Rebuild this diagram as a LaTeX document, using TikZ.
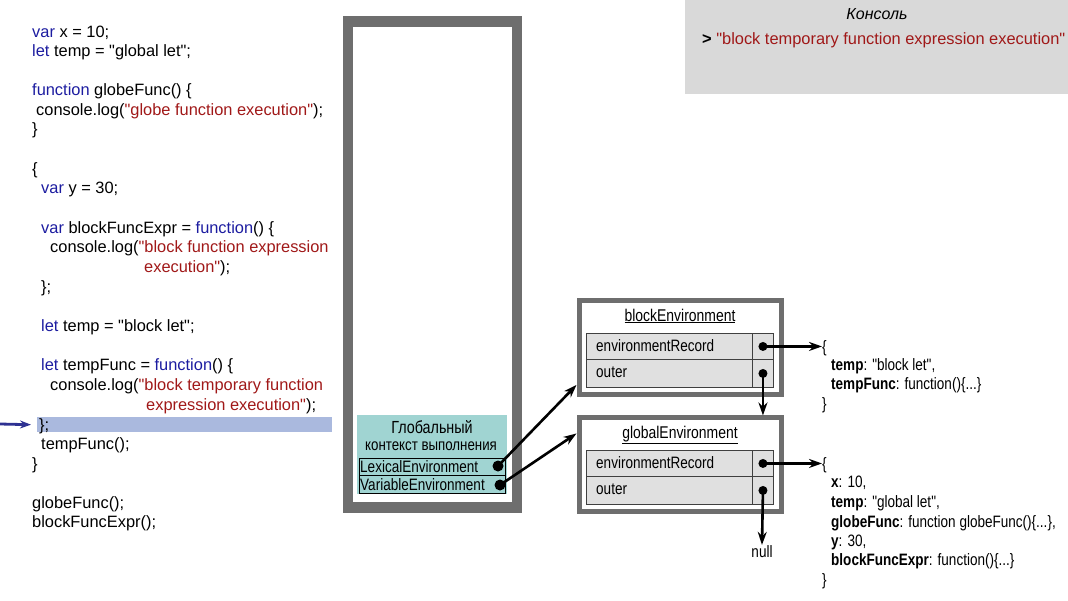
\documentclass[tikz,border=0pt]{standalone}
\usepackage{fontspec}
\setmainfont{Liberation Sans}
\newfontfamily\arial{Liberation Sans}
\newfontfamily\nar{Liberation Sans}[FakeStretch=0.82]
\usetikzlibrary{arrows.meta}
\definecolor{kwc}{RGB}{28,28,160}
\definecolor{strc}{RGB}{160,24,24}
\definecolor{framegray}{RGB}{110,110,110}
\definecolor{cellgray}{RGB}{224,224,224}
\definecolor{consgray}{RGB}{217,217,217}
\definecolor{tealc}{RGB}{160,212,210}
\definecolor{hlc}{RGB}{170,185,222}
\definecolor{arrblue}{RGB}{46,49,146}
\newcommand{\cKw}[1]{\textcolor{kwc}{#1}}
\newcommand{\cStr}[1]{\textcolor{strc}{#1}}
\begin{document}
\begin{tikzpicture}[x=1pt,y=-1pt,
  code/.style={anchor=base west, inner sep=0pt, font=\arial\fontsize{16.4}{19}\selectfont},
  ntext/.style={anchor=base west, inner sep=0pt, font=\nar\fontsize{16.5}{19}\selectfont},
  envframe/.style={draw=framegray, line width=5pt, fill=white, minimum width=202pt, minimum height=93.5pt, inner sep=0pt},
  cell/.style={draw=black!75, line width=0.9pt, fill=cellgray, anchor=north west, inner sep=0pt},
  trow/.style={draw=black, line width=1.2pt, anchor=north west, inner sep=0pt, minimum width=146pt},
  dot/.style={circle, fill=black, inner sep=0pt, minimum size=9pt},
  bigdot/.style={circle, fill=black, inner sep=0pt, minimum size=11pt},
  ptr/.style={line width=2.6pt, -{Stealth[length=13pt,width=9pt]}},
]
\useasboundingbox (0,0) rectangle (1068,600);

% console
\node[fill=consgray, minimum width=383pt, minimum height=94pt, anchor=north west, inner sep=0pt] (cons) at (685,0) {};
\node[anchor=base, inner sep=0pt, font=\arial\itshape\fontsize{16}{19}\selectfont] (consT) at (877,19) {Консоль};
\node[code] (consL) at (702,44) {\textbf{>} \cStr{"block temporary function expression execution"}};

% highlight and current-line arrow
\node[fill=hlc, minimum width=295pt, minimum height=15pt, anchor=north west, inner sep=0pt] (hl) at (37,417) {};
\coordinate (arrS) at (0,424);
\draw[arrblue, line width=2.8pt, -{Stealth[length=11pt,width=8pt]}] (arrS) -- ([xshift=-6pt]hl.west);

% code
\node[code] (c1) at (32,37) {\cKw{var} x = 10;};
\node[code] (c2) at (32,56) {\cKw{let} temp = "global let";};
\node[code] (c3) at (32,95) {\cKw{function} globeFunc() \{};
\node[code] (c4) at (36,115) {console.log(\cStr{"globe function execution"});};
\node[code] (c5) at (32,134) {\}};
\node[code] (c6) at (32,174) {\{};
\node[code] (c7) at (41,193) {\cKw{var} y = 30;};
\node[code] (c8) at (41,233) {\cKw{var} blockFuncExpr = \cKw{function}() \{};
\node[code] (c9) at (50,252) {console.log(\cStr{"block function expression}};
\node[code] (c10) at (144,272) {\cStr{execution"});};
\node[code] (c11) at (41,292) {\};};
\node[code] (c12) at (41,331) {\cKw{let} temp = "block let";};
\node[code] (c13) at (41,370) {\cKw{let} tempFunc = \cKw{function}() \{};
\node[code] (c14) at (50,390) {console.log(\cStr{"block temporary function}};
\node[code] (c15) at (146,410) {\cStr{expression execution"});};
\node[code] (c16) at (39,430) {\};};
\node[code] (c17) at (41,449) {tempFunc();};
\node[code] (c18) at (32,469) {\}};
\node[code] (c19) at (32,508) {globeFunc();};
\node[code] (c20) at (32,527) {blockFuncExpr();};

% call stack frame
\node[draw=framegray, line width=10.5pt, minimum width=169pt, minimum height=486pt, inner sep=0pt] (stack) at (432.7,264.6) {};

% global execution context
\node[fill=tealc, minimum width=150pt, minimum height=79pt, anchor=north west, inner sep=0pt] (gctx) at (357,415) {};
\node[anchor=base, inner sep=0pt, font=\nar\fontsize{17.5}{19}\selectfont] (gT1) at (432,433) {Глобальный};
\node[anchor=base, inner sep=0pt, font=\nar\fontsize{16.2}{19}\selectfont] (gT2) at (431,450) {контекст выполнения};
\node[trow, minimum height=17pt] (lexRow) at (359,458) {};
\node[trow, minimum height=18pt] (varRow) at (359,475) {};
\node[ntext] (lexT) at (360,472) {LexicalEnvironment};
\node[ntext] (varT) at (360,490) {VariableEnvironment};
\node[bigdot] (lexDot) at (498,466) {};
\node[bigdot] (varDot) at (500,485) {};

% blockEnvironment
\node[envframe] (bF) at (680,347.7) {};
\node[anchor=base, inner sep=0pt, font=\nar\fontsize{17}{19}\selectfont] (bTitle) at (680,321) {\underline{blockEnvironment}};
\node[cell, minimum width=166pt, minimum height=26pt] (bERl) at (586,333) {};
\node[cell, minimum width=21pt, minimum height=26pt] (bERp) at (752,333) {};
\node[cell, minimum width=166pt, minimum height=28pt] (bOl) at (586,359) {};
\node[cell, minimum width=21pt, minimum height=28pt] (bOp) at (752,359) {};
\node[ntext] (bERt) at (596,351.5) {environmentRecord};
\node[ntext] (bOt) at (596,377.5) {outer};
\node[dot] (bERdot) at (bERp.center) {};
\node[dot] (bOdot) at (bOp.center) {};

% globalEnvironment
\node[envframe] (gF) at (680,464.7) {};
\node[anchor=base, inner sep=0pt, font=\nar\fontsize{17}{19}\selectfont] (gTitle) at (680,438) {\underline{globalEnvironment}};
\node[cell, minimum width=166pt, minimum height=26pt] (gERl) at (586,450) {};
\node[cell, minimum width=21pt, minimum height=26pt] (gERp) at (752,450) {};
\node[cell, minimum width=166pt, minimum height=28pt] (gOl) at (586,476) {};
\node[cell, minimum width=21pt, minimum height=28pt] (gOp) at (752,476) {};
\node[ntext] (gERt) at (596,468.5) {environmentRecord};
\node[ntext] (gOt) at (596,494.5) {outer};
\node[dot] (gERdot) at (gERp.center) {};
\node[dot] (gOdot) at (gOp.center) {};
\node[anchor=base, inner sep=0pt, font=\nar\fontsize{16.5}{19}\selectfont] (null) at (762,557) {null};

% records
\node[ntext] (bOpen) at (822,352) {\{};
\node[ntext] (b1) at (831,370) {\textbf{temp}: "block let",};
\node[ntext] (b2) at (831,389) {\textbf{tempFunc}: function()\{...\}};
\node[ntext] (bClose) at (822,409) {\}};
\node[ntext] (gOpen) at (822,469) {\{};
\node[ntext] (g1) at (831,487) {\textbf{x}: 10,};
\node[ntext] (g2) at (831,507) {\textbf{temp}: "global let",};
\node[ntext] (g3) at (831,527) {\textbf{globeFunc}: function globeFunc()\{...\},};
\node[ntext] (g4) at (831,546) {\textbf{y}: 30,};
\node[ntext] (g5) at (831,565) {\textbf{blockFuncExpr}: function()\{...\}};
\node[ntext] (gClose) at (822,585) {\}};

% pointers
\draw[ptr] (bERdot.center) -- (bOpen.west |- bERdot);
\draw[ptr] (gERdot.center) -- (gOpen.west |- gERdot);
\draw[ptr] (bOdot.center) -- (bOdot |- gF.north);
\draw[ptr] (gOdot.center) -- (null.north);
\draw[ptr] (lexDot.center) -- ([yshift=12pt]bF.south west);
\draw[ptr] (varDot.center) -- ([yshift=-18pt]gF.north west);
\end{tikzpicture}
\end{document}
